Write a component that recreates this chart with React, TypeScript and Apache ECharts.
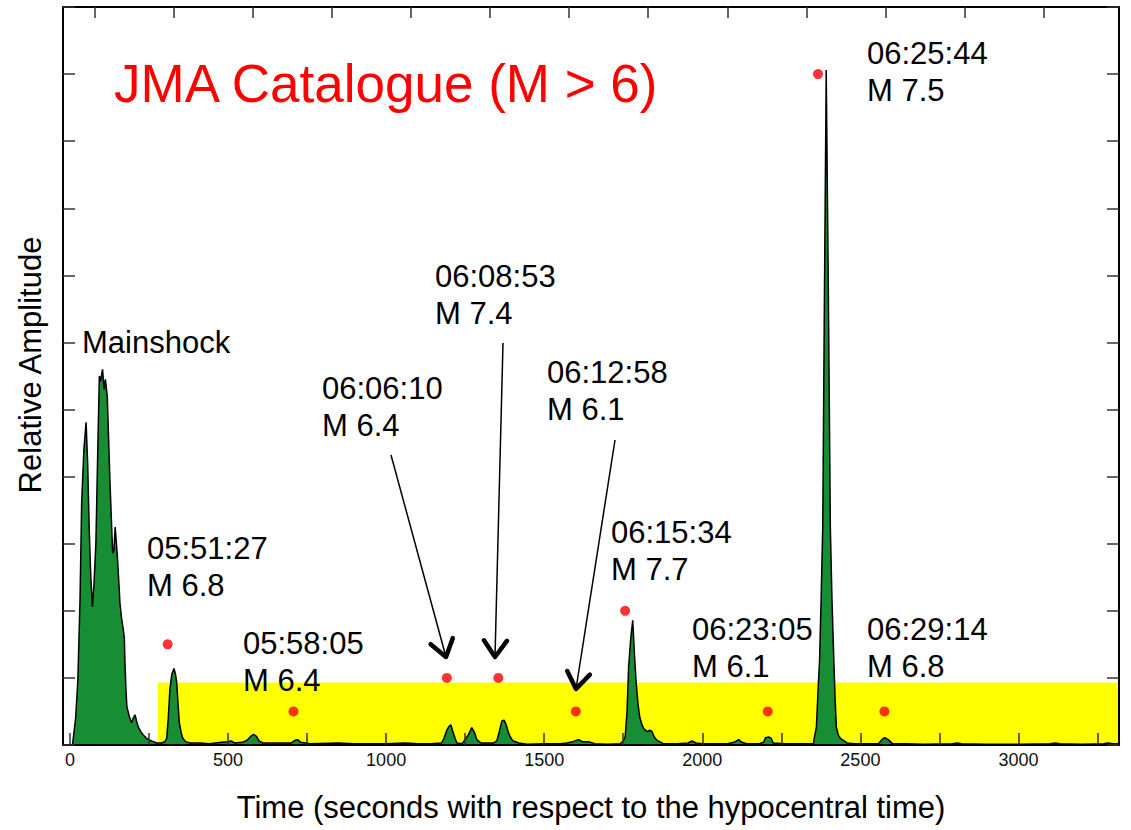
import React, { useEffect, useRef } from "react";
import * as echarts from "echarts";

// ---- data ----
const TIME_S = [
  0, 8, 18, 25, 32, 37, 44, 51, 56, 61, 66, 71, 76, 82, 88, 93, 97, 103, 108, 112, 118, 126, 135, 139, 143, 147,
  150, 155, 158, 163, 169, 172, 174, 177, 180, 188, 195, 200, 206, 211, 216, 224, 232, 242, 253, 264, 274, 290,
  300, 306, 311, 316, 322, 329, 334, 338, 342, 346, 352, 357, 366, 380, 411, 440, 480, 500, 510, 520, 545, 560,
  572, 580, 590, 598, 610, 650, 700, 712, 720, 730, 760, 850, 900, 950, 1000, 1060, 1100, 1140, 1175, 1183,
  1192, 1198, 1205, 1211, 1218, 1224, 1240, 1250, 1260, 1271, 1280, 1287, 1300, 1340, 1350, 1358, 1366, 1373,
  1380, 1387, 1395, 1402, 1420, 1445, 1500, 1550, 1572, 1590, 1609, 1620, 1640, 1660, 1700, 1741, 1750, 1756,
  1762, 1767, 1774, 1780, 1786, 1791, 1797, 1802, 1808, 1814, 1820, 1827, 1834, 1841, 1848, 1857, 1877, 1920,
  1955, 1967, 1980, 2000, 2040, 2080, 2100, 2115, 2125, 2140, 2180, 2194, 2200, 2210, 2218, 2224, 2260, 2300,
  2340, 2352, 2354, 2361, 2366, 2371, 2376, 2381, 2386, 2392, 2399, 2405, 2410, 2416, 2420, 2424, 2430, 2437,
  2458, 2480, 2520, 2557, 2568, 2577, 2588, 2601, 2650, 2700, 2790, 2806, 2820, 2900, 3000, 3100, 3117, 3130,
  3200, 3270, 3281, 3300, 3318,
];
const AMPLITUDE = [
  0, 0, 0.4, 0.97, 2.2, 3.6, 4.4, 4.81, 4.2, 3.2, 2.5, 2.06, 2.4, 3.0, 4.4, 5.5, 5.42, 5.6, 5.3, 5.45, 5.2, 4.0,
  2.86, 2.9, 3.25, 3.0, 2.8, 2.4, 2.12, 1.9, 1.71, 1.6, 1.22, 0.85, 0.57, 0.42, 0.33, 0.4, 0.45, 0.35, 0.27, 0.2,
  0.15, 0.1, 0.07, 0.05, 0.03, 0.03, 0.05, 0.1, 0.4, 0.82, 1.05, 1.14, 1.05, 0.92, 0.6, 0.33, 0.18, 0.1, 0.05,
  0.03, 0.03, 0.02, 0.04, 0.05, 0.06, 0.03, 0.04, 0.07, 0.13, 0.16, 0.13, 0.06, 0.03, 0.03, 0.03, 0.07, 0.08,
  0.04, 0.02, 0.03, 0.02, 0.02, 0.02, 0.03, 0.02, 0.02, 0.03, 0.1, 0.22, 0.27, 0.3, 0.2, 0.1, 0.03, 0.02, 0.08,
  0.15, 0.26, 0.18, 0.08, 0.03, 0.03, 0.06, 0.2, 0.36, 0.37, 0.3, 0.18, 0.1, 0.06, 0.03, 0.01, 0.02, 0.02, 0.03,
  0.05, 0.08, 0.05, 0.05, 0.02, 0.01, 0.02, 0.06, 0.12, 0.5, 1.17, 1.6, 1.86, 1.3, 0.92, 0.6, 0.42, 0.32, 0.25,
  0.22, 0.2, 0.22, 0.2, 0.12, 0.07, 0.02, 0.02, 0.03, 0.06, 0.03, 0.02, 0.02, 0.02, 0.04, 0.08, 0.04, 0.02, 0.02,
  0.04, 0.11, 0.12, 0.1, 0.03, 0.02, 0.02, 0.02, 0.02, 0.1, 0.27, 0.8, 1.27, 2.2, 3.25, 6.5, 10.06, 6.6, 3.25,
  2.2, 1.27, 0.7, 0.27, 0.15, 0.1, 0.03, 0.02, 0.02, 0.02, 0.08, 0.11, 0.08, 0.02, 0.02, 0.01, 0.02, 0.03, 0.02,
  0.01, 0.01, 0.02, 0.03, 0.02, 0.01, 0.02, 0.03, 0.02, 0.02,
];

const EVENT_TIME_S = [309, 707, 1192, 1355, 1600, 1756, 2207, 2366, 2576];
const EVENT_MARKER_LEVEL = [1.5, 0.5, 1, 1, 0.5, 2, 0.5, 10, 0.5];
const EVENT_CLOCK = ["05:51:27", "05:58:05", "06:06:10", "06:08:53", "06:12:58", "06:15:34", "06:23:05", "06:25:44", "06:29:14"];
const EVENT_MAGNITUDE = ["M 6.8", "M 6.4", "M 6.4", "M 7.4", "M 6.1", "M 7.7", "M 6.1", "M 7.5", "M 6.8"];

// highlighted band: [start time, end time, level]
const BAND = [278, 3318, 0.93];

const X_TICKS = [0, 250, 500, 750, 1000, 1250, 1500, 1750, 2000, 2250, 2500, 2750, 3000, 3250];
const X_TICK_LABELS = [0, 500, 1000, 1500, 2000, 2500, 3000];
const TOP_TICKS = [79, 329, 579, 829, 1079, 1329, 1579, 1829, 2079, 2329, 2579, 2829, 3079];

const TITLE = "JMA Catalogue (M > 6)";
const MAINSHOCK = "Mainshock";
const X_NAME = "Time (seconds with respect to the hypocentral time)";
const Y_NAME = "Relative Amplitude";

// ---- layout (pixels) for annotations ----
const LABEL_POS: number[][] = [
  [147, 548], [243, 643], [322, 388], [435, 276], [547, 372], [611, 532], [692, 629], [867, 53], [867, 629],
];
const LINE_GAP = 37;
const ARROWS: number[][] = [
  [391, 455, 446, 657],
  [503, 343, 495, 657],
  [615, 440, 576, 689],
];

const FONT = "Liberation Sans, Arial, Helvetica, sans-serif";

function arrowHead(x1: number, y1: number, x2: number, y2: number) {
  const dx = x2 - x1, dy = y2 - y1;
  const L = Math.hypot(dx, dy);
  const bx = -dx / L, by = -dy / L;
  const a = (35 * Math.PI) / 180, len = 20;
  const c = Math.cos(a), s = Math.sin(a);
  const p1 = [x2 + (bx * c - by * s) * len, y2 + (bx * s + by * c) * len];
  const p2 = [x2 + (bx * c + by * s) * len, y2 + (-bx * s + by * c) * len];
  return [p1, [x2, y2], p2];
}

export default function App() {
  const ref = useRef<HTMLDivElement>(null);
  useEffect(() => {
    if (!ref.current) return;
    const chart = echarts.init(ref.current, undefined, { renderer: "svg" });
    const wave = TIME_S.map((t, i) => [t, AMPLITUDE[i]]);
    const events = EVENT_TIME_S.map((t, i) => [t, EVENT_MARKER_LEVEL[i]]);

    const graphics: any[] = [];
    graphics.push({
      type: "text", x: 114, y: 83, z: 100,
      style: { text: TITLE, fill: "#ff0000", fontSize: 53, fontFamily: FONT, align: "left", verticalAlign: "middle" },
    });
    graphics.push({
      type: "text", x: 82, y: 342, z: 100,
      style: { text: MAINSHOCK, fill: "#000", fontSize: 31, fontFamily: FONT, align: "left", verticalAlign: "middle" },
    });
    LABEL_POS.forEach((p, i) => {
      graphics.push({
        type: "text", x: p[0], y: p[1], z: 100,
        style: { text: EVENT_CLOCK[i], fill: "#000", fontSize: 31, fontFamily: FONT, align: "left", verticalAlign: "middle" },
      });
      graphics.push({
        type: "text", x: p[0], y: p[1] + LINE_GAP, z: 100,
        style: { text: EVENT_MAGNITUDE[i], fill: "#000", fontSize: 31, fontFamily: FONT, align: "left", verticalAlign: "middle" },
      });
    });
    ARROWS.forEach((a) => {
      graphics.push({
        type: "line", z: 100,
        shape: { x1: a[0], y1: a[1], x2: a[2], y2: a[3] },
        style: { stroke: "#000", lineWidth: 1.5 },
      });
      graphics.push({
        type: "polyline", z: 100,
        shape: { points: arrowHead(a[0], a[1], a[2], a[3]) },
        style: { stroke: "#000", lineWidth: 4.5, lineJoin: "round", lineCap: "round", fill: null },
      });
    });

    const axisLine = { show: true, onZero: false, lineStyle: { color: "#000", width: 2 } };
    const tickStyle = { color: "#333", width: 1.5 };

    chart.setOption({
      animation: false,
      backgroundColor: "#fff",
      grid: { left: 63, right: 12, top: 7, bottom: 85, containLabel: false, outerBoundsMode: "none" },
      xAxis: [
        {
          type: "value", position: "bottom", min: -22, max: 3318, z: 10,
          axisLine,
          axisTick: { show: true, inside: true, length: 12, lineStyle: tickStyle, customValues: X_TICKS },
          axisLabel: {
            show: true, margin: 6,
            customValues: X_TICK_LABELS,
            formatter: (v: number) => "{t|" + String(v) + "}",
            rich: { t: { fontFamily: FONT, fontSize: 18, color: "#111" } },
            fontFamily: FONT, fontSize: 18, color: "#111",
          },
          splitLine: { show: false },
          name: X_NAME, nameLocation: "middle", nameGap: 47,
          nameTextStyle: { fontFamily: FONT, fontSize: 31, color: "#000" },
        },
        {
          type: "value", position: "top", min: -22, max: 3318, z: 10,
          axisLine,
          axisTick: { show: true, inside: true, length: 11, lineStyle: tickStyle, customValues: TOP_TICKS },
          axisLabel: { show: false },
          splitLine: { show: false },
        },
      ],
      yAxis: [
        {
          type: "value", position: "left", min: 0, max: 11, interval: 1, z: 10,
          axisLine,
          axisTick: { show: true, inside: true, length: 12, lineStyle: tickStyle },
          axisLabel: { show: false },
          splitLine: { show: false },
          name: Y_NAME, nameLocation: "middle", nameGap: 17,
          nameTextStyle: { fontFamily: FONT, fontSize: 31, color: "#000", padding: [0, 0, 0, 22] },
        },
        {
          type: "value", position: "right", min: 0, max: 11, interval: 1, z: 10,
          axisLine,
          axisTick: { show: true, inside: true, length: 12, lineStyle: tickStyle },
          axisLabel: { show: false },
          splitLine: { show: false },
        },
      ],
      series: [
        {
          type: "custom",
          z: 1,
          xAxisIndex: 0, yAxisIndex: 0,
          data: [BAND],
          silent: true,
          renderItem: (params: any, api: any) => {
            const p0 = api.coord([api.value(0), api.value(2)]);
            const p1 = api.coord([api.value(1), 0]);
            return {
              type: "rect",
              shape: { x: p0[0], y: p0[1], width: p1[0] - p0[0], height: p1[1] - p0[1] },
              style: { fill: "#ffff00" },
            };
          },
        },
        {
          type: "line",
          z: 2,
          xAxisIndex: 0, yAxisIndex: 0,
          data: wave,
          showSymbol: false,
          symbol: "none",
          smooth: false,
          lineStyle: { color: "#000", width: 1.5 },
          areaStyle: { color: "#178e33", opacity: 1 },
          silent: true,
        },
        {
          type: "scatter",
          z: 3,
          xAxisIndex: 0, yAxisIndex: 0,
          data: events,
          symbolSize: 10,
          itemStyle: { color: "#ff0000" },
          silent: true,
        },
      ],
      graphic: graphics,
    });
    return () => chart.dispose();
  }, []);
  return (
    <div
      ref={ref}
      style={{ position: "fixed", left: 0, top: 0, width: 1131, height: 830, background: "#fff" }}
    />
  );
}
